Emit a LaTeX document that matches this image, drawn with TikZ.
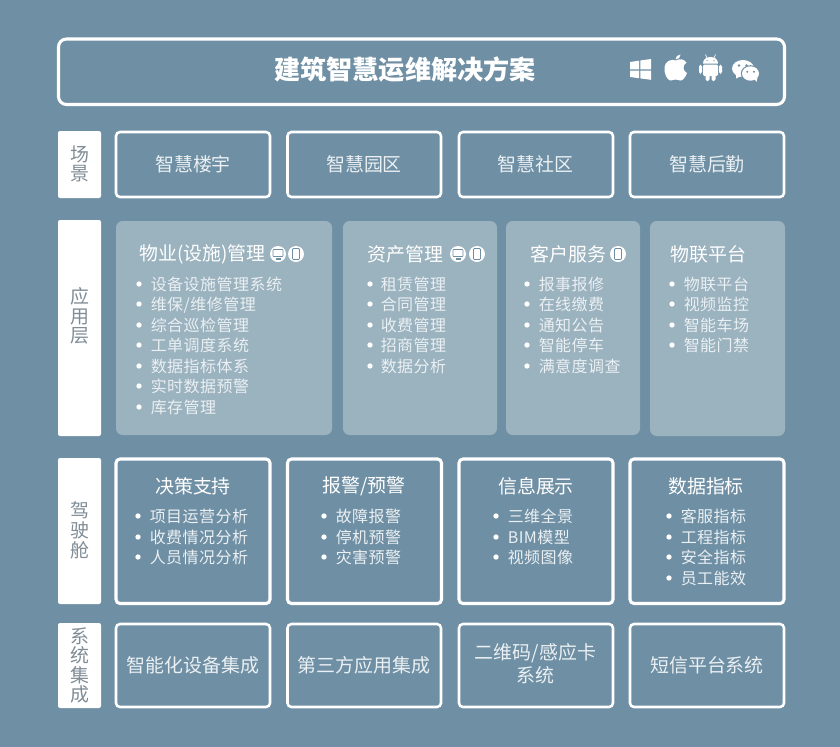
\documentclass[tikz,border=0pt]{standalone}
\usepackage{fontspec}
\setmainfont{Noto Sans CJK SC}
\newfontfamily\listfont[LetterSpace=3]{Noto Sans CJK SC}
\definecolor{bgc}{HTML}{6F8FA4}
\definecolor{panelc}{HTML}{9BB2BF}
\definecolor{labelc}{HTML}{7F8C96}
\definecolor{listc}{HTML}{EAF0F3}
\tikzset{
  px/.style={x=0.75pt,y=-0.75pt},
  framebox/.style={draw=white,line width=1.9pt,rounded corners=3pt},
  sidebox/.style={fill=white,rounded corners=1.5pt},
  panelbox/.style={fill=panelc,rounded corners=5pt},
  sidetxt/.style={text=labelc,align=center,inner sep=0pt},
  headtxt/.style={text=white,font=\fontsize{14.2}{14.2}\selectfont,inner sep=0pt,anchor=west},
  midtxt/.style={text=listc,font=\fontsize{14.2}{14.2}\selectfont,inner sep=0pt,align=center},
  itemtxt/.style={text=listc,font=\listfont\fontsize{12}{12}\selectfont,inner sep=0pt,anchor=west,text height=12pt,text depth=2.5pt},
  dot/.style={fill=white,circle,inner sep=0pt,minimum size=4pt},
  icondisc/.style={fill=white,circle,inner sep=0pt,minimum size=12pt},
}
% \sidecol{name}{cx}{cy}{leading in pt}{text}
\newcommand{\sidecol}[5]{\node[sidetxt,font=\fontsize{14.2}{#4}\selectfont] (#1) at (#2,#3) {#5};}
% \itemlist{prefix}{bullet x}{text x}{items with y}
\newcommand{\itemlist}[4]{%
  \foreach \yy/\tt [count=\n] in {#4} {
    \node[dot] (#1d\n) at (#2,\yy) {};
    \node[itemtxt] (#1t\n) at (#3-0.5,\yy) {\tt};
  }}
\newcommand{\screenicon}[3]{%
  \node[icondisc] (#1) at (#2,#3) {};
  \draw[bgc,line width=0.6pt,rounded corners=0.5pt] (#2-5,#3-4.5) rectangle (#2+5,#3+2.5);
  \draw[bgc,line width=0.8pt] (#2-2.5,#3+5) -- (#2+2.5,#3+5);}
\newcommand{\phoneicon}[3]{%
  \node[icondisc] (#1) at (#2,#3) {};
  \draw[bgc,line width=0.6pt,rounded corners=0.7pt] (#2-3.5,#3-5.5) rectangle (#2+3.5,#3+5.5);}
\begin{document}
\begin{tikzpicture}[px]
\useasboundingbox (0,0) rectangle (840,747);
\fill[bgc] (0,0) rectangle (840,747);
% title
\draw[draw=white,line width=2.3pt,rounded corners=6pt] (58.5,39) rectangle (784.5,104.5);
\node[text=white,inner sep=0pt,font=\bfseries\fontsize{19.6}{19.6}\selectfont] (title) at (405,70) {建筑智慧运维解决方案};
% windows
\fill[white] (630,62) -- (639,60.7) -- (639,69.3) -- (630,69.3) -- cycle;
\fill[white] (640.3,60.5) -- (651,59) -- (651,69.3) -- (640.3,69.3) -- cycle;
\fill[white] (630,70.6) -- (639,70.6) -- (639,78.2) -- (630,77) -- cycle;
\fill[white] (640.3,70.6) -- (651,70.6) -- (651,79.8) -- (640.3,78.4) -- cycle;
% apple
\fill[white] (676,60.5) .. controls (680,58.5) and (684,59) .. (686.5,62.5)
  .. controls (682.5,65) and (682.5,71) .. (687,73)
  .. controls (685.5,77) and (683,80.5) .. (680.5,80.5)
  .. controls (678.5,80.5) and (677.5,79.5) .. (675.5,79.5)
  .. controls (673.5,79.5) and (672.5,80.5) .. (670.5,80.5)
  .. controls (667,80.5) and (664,73) .. (664.5,68)
  .. controls (665,61) and (671,58.5) .. (676,60.5) -- cycle;
\fill[white] (675.5,59.5) .. controls (675.5,56.5) and (677.5,55) .. (680.5,54.5)
  .. controls (680.5,57.5) and (678.5,59.5) .. (675.5,59.5) -- cycle;
% android
\fill[white] (703,63.5) .. controls (703,59.5) and (706,57) .. (710.5,57)
  .. controls (715,57) and (718,59.5) .. (718,63.5) -- cycle;
\draw[white,line width=0.5pt] (705.5,54.5) -- (707,58) (715.5,54.5) -- (714,58);
\fill[white,rounded corners=1pt] (703,64.5) rectangle (718,76);
\fill[white,rounded corners=1.2pt] (705.5,74) rectangle (709.5,81);
\fill[white,rounded corners=1.2pt] (711.5,74) rectangle (715.5,81);
\fill[white,rounded corners=1.4pt] (699,64.5) rectangle (702,74);
\fill[white,rounded corners=1.4pt] (719,64.5) rectangle (722,74);
\fill[bgc] (707,60.5) circle (0.7) (714,60.5) circle (0.7);
% wechat
\fill[white] (743,68.5) ellipse (11 and 8.5);
\fill[white] (736,74) -- (736,78.5) -- (741,76) -- cycle;
\fill[bgc] (739,65.5) circle (1.3) (746.5,65.5) circle (1.3);
\fill[bgc] (750.5,73.5) ellipse (9.7 and 8.3);
\fill[white] (750.5,73.5) ellipse (8.5 and 7.2);
\fill[white] (754.5,79) -- (756.5,82) -- (757.5,77.5) -- cycle;
\fill[bgc] (747.3,71.8) circle (1.1) (754,71.8) circle (1.1);

% row 1
\path[sidebox] (58,131) rectangle (101,198);
\sidecol{lb1}{79.5}{164}{14}{场\\景}
\path[framebox] (116,132) rectangle (270,197);
\node[midtxt] (s1) at (193,164) {智慧楼宇};
\path[framebox] (287.5,132) rectangle (441,197);
\node[midtxt] (s2) at (364,164) {智慧园区};
\path[framebox] (459,132) rectangle (613,197);
\node[midtxt] (s3) at (535.5,164) {智慧社区};
\path[framebox] (630,132) rectangle (784,197);
\node[midtxt] (s4) at (707,164) {智慧后勤};

% row 2
\path[sidebox] (58,220) rectangle (101,436);
\sidecol{lb2}{79.5}{316}{14.5}{应\\用\\层}
\path[panelbox] (116,221) rectangle (332,435);
\path[panelbox] (343,221) rectangle (497,435);
\path[panelbox] (506,221) rectangle (640,435);
\path[panelbox] (650,221) rectangle (785,436);
\node[headtxt] (a1) at (139,254) {物业(设施)管理};
\screenicon{a1i}{278}{254}
\phoneicon{a1j}{296}{254}
\node[headtxt] (a2) at (367,254) {资产管理};
\screenicon{a2i}{458}{254}
\phoneicon{a2j}{477}{254}
\node[headtxt] (a3) at (530,254) {客户服务};
\phoneicon{a3j}{618}{254}
\node[headtxt] (a4) at (670,254) {物联平台};
\itemlist{p}{139}{151}{284/设备设施管理系统,304/{维保/维修管理},325/综合巡检管理,345/工单调度系统,366/数据指标体系,386/实时数据预警,407/库存管理}
\itemlist{q}{370}{381}{284/租赁管理,304/合同管理,325/收费管理,345/招商管理,366/数据分析}
\itemlist{r}{527}{539}{284/报事报修,304/在线缴费,325/通知公告,345/智能停车,366/满意度调查}
\itemlist{u}{672}{684}{284/物联平台,304/视频监控,325/智能车场,345/智能门禁}

% row 3
\path[sidebox] (58,458) rectangle (101,604);
\sidecol{lb3}{79.5}{530}{15}{驾\\驶\\舱}
\path[framebox,line width=2.3pt] (116,459) rectangle (270,603.5);
\path[framebox,line width=2.3pt] (287.5,459) rectangle (441.5,603.5);
\path[framebox,line width=2.3pt] (459,459) rectangle (613,603.5);
\path[framebox,line width=2.3pt] (630,459) rectangle (784,603.5);
\node[midtxt,text=white] (d1) at (193,486) {决策支持};
\node[midtxt,text=white] (d2) at (364,486) {报警/预警};
\node[midtxt,text=white] (d3) at (536,486) {信息展示};
\node[midtxt,text=white] (d4) at (706,486) {数据指标};
\itemlist{e}{138}{150}{516/项目运营分析,537/收费情况分析,557/人员情况分析}
\itemlist{f}{324}{336}{516/故障报警,537/停机预警,557/灾害预警}
\itemlist{g}{496}{508}{516/三维全景,537/BIM模型,557/视频图像}
\itemlist{h}{669}{681}{516/客服指标,537/工程指标,557/安全指标,578/员工能效}

% row 4
\path[sidebox] (58,623) rectangle (101,708);
\sidecol{lb4}{79.5}{665.5}{14.5}{系\\统\\集\\成}
\path[framebox] (116,624) rectangle (270,707);
\node[midtxt] (y1) at (193,665) {智能化设备集成};
\path[framebox] (287.5,624) rectangle (441,707);
\node[midtxt] (y2) at (364,665) {第三方应用集成};
\path[framebox] (459,624) rectangle (613,707);
\node[midtxt,font=\fontsize{14.2}{17.5}\selectfont] (y3) at (535.5,664) {二维码/感应卡\\系统};
\path[framebox] (630,624) rectangle (784,707);
\node[midtxt] (y4) at (707,665) {短信平台系统};
\end{tikzpicture}
\end{document}
